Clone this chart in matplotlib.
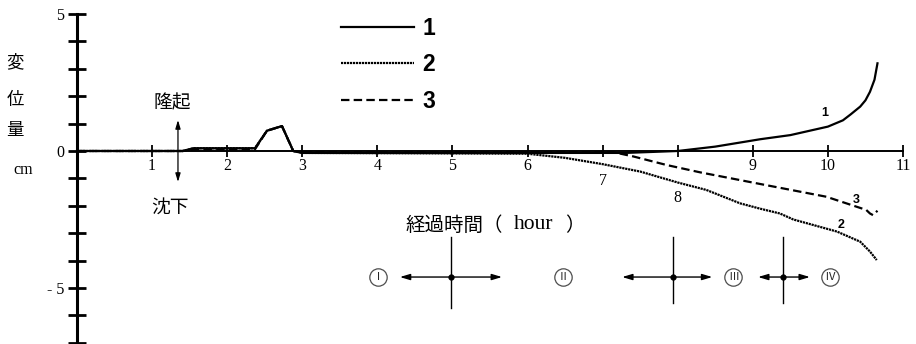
import matplotlib.pyplot as plt

plt.rcParams['font.family'] = ['Liberation Serif', 'Noto Sans CJK JP']

# elapsed time (hour) and displacement (cm) for the three measuring points
hours_1 = [0, 1.41, 1.55, 2.37, 2.53, 2.73, 2.88, 3.0, 7.3, 8.0, 8.5, 9.1, 9.5,
           10.0, 10.2, 10.3, 10.43, 10.5, 10.56, 10.62, 10.66]
disp_1 = [0, 0, 0.1, 0.1, 0.74, 0.91, 0, -0.07, -0.07, 0, 0.16, 0.43, 0.58,
          0.89, 1.12, 1.33, 1.62, 1.85, 2.16, 2.6, 3.2]

hours_2 = [0, 1.41, 1.55, 2.37, 2.53, 2.73, 2.88, 3.0, 6.0, 6.5, 7.0, 7.5, 8.0,
           8.38, 8.83, 9.09, 9.36, 9.54, 10.12, 10.43, 10.56, 10.65]
disp_2 = [0, 0, 0.1, 0.1, 0.74, 0.91, 0, -0.07, -0.1, -0.25, -0.48, -0.75, -1.15,
          -1.42, -1.91, -2.1, -2.28, -2.5, -2.94, -3.31, -3.67, -3.98]

hours_3 = [0, 1.41, 1.55, 2.37, 2.53, 2.73, 2.88, 3.0, 7.14, 7.41, 7.85, 8.3,
           9.09, 9.98, 10.51, 10.56, 10.6, 10.66]
disp_3 = [0, 0, 0.06, 0.06, 0.74, 0.91, 0, -0.04, -0.04, -0.2, -0.51, -0.78,
          -1.2, -1.67, -2.15, -2.28, -2.34, -2.18]

x_ticks = list(range(1, 12))
y_ticks = list(range(-7, 6))
y_tick_labels = ['- 5' if v == -5 else str(v) if v in (0, 5) else '' for v in y_ticks]

fig = plt.figure(figsize=(9.16, 3.44), dpi=100)
ax = fig.add_axes([0, 0, 1, 1])
ax.set_xlim(-1.025, 11.173)
ax.set_ylim(-7.044, 5.511)

# axes through the origin
for side in ['top', 'right']:
    ax.spines[side].set_visible(False)
ax.spines['left'].set_position(('data', 0))
ax.spines['left'].set_bounds(-7.1, 5)
ax.spines['left'].set_linewidth(2.2)
ax.spines['bottom'].set_position(('data', 0))
ax.spines['bottom'].set_bounds(0, 11)
ax.spines['bottom'].set_linewidth(1.4)

ax.set_xticks(x_ticks, [str(v) for v in x_ticks])
ax.set_yticks(y_ticks, y_tick_labels)
ax.tick_params(axis='x', direction='inout', length=8, width=1.3, pad=1, labelsize=11.5)
ax.tick_params(axis='y', direction='inout', length=13, width=2, pad=2.9, labelsize=11.5)

# labels 7 and 8 sit lower so the curves do not run through them
xt = ax.xaxis.get_major_ticks()
xt[6].label1.set_y(-0.55)
xt[7].label1.set_y(-1.17)

l1, = ax.plot(hours_1, disp_1, color='black', lw=1.6, solid_joinstyle='round')
l2, = ax.plot(hours_2, disp_2, color='black', lw=1.6, linestyle=(0, (1, 0.35)))
l3, = ax.plot(hours_3, disp_3, color='black', lw=1.6, linestyle=(0, (3.8, 1.9)))

# curve numbers
lab = dict(fontsize=9, fontweight='bold', family='Liberation Sans', ha='center', va='center')
ax.text(9.96, 1.38, '1', **lab)
ax.text(10.38, -1.79, '3', **lab)
ax.text(10.18, -2.7, '2', **lab)

leg = ax.legend([l1, l2, l3], ['1', '2', '3'], loc='upper left',
                bbox_to_anchor=(341 / 916, 1 - 17 / 344), frameon=False,
                prop={'family': 'Liberation Sans', 'weight': 'bold', 'size': 16.5},
                handlelength=3.2, handletextpad=0.35, labelspacing=0.58,
                borderpad=0, borderaxespad=0)

# axis titles
cjk = dict(family=['Noto Sans CJK JP'], fontsize=12.5, ha='center', va='center')
ax.text(-0.826, 3.25, '変', **cjk)
ax.text(-0.826, 1.86, '位', **cjk)
ax.text(-0.826, 0.77, '量', **cjk)
ax.text(-0.72, -0.69, 'cm', fontsize=11.5, ha='center', va='center')
ax.text(1.265, 1.75, '隆起', family=['Noto Sans CJK JP'], fontsize=13.5,
        ha='center', va='center')
ax.text(1.24, -2.04, '沈下', family=['Noto Sans CJK JP'], fontsize=13.5,
        ha='center', va='center')
ax.annotate('', xy=(1.345, 1.13), xytext=(1.345, -1.13),
            arrowprops=dict(arrowstyle='<|-|>,head_length=0.5,head_width=0.15',
                            lw=0.9, color='black', shrinkA=0, shrinkB=0))
ax.text(4.37, -2.72, '経過時間（', fontsize=14, ha='left', va='center',
        family=['Noto Sans CJK JP'])
ax.text(6.08, -2.68, 'hour', fontsize=15.5, ha='center', va='center')
ax.text(6.63, -2.72, '）', fontsize=14, ha='center', va='center',
        family=['Noto Sans CJK JP'])

# stage sketches along the bottom
stages = [('Ⅰ', 4.01), ('Ⅱ', 6.47), ('Ⅲ', 8.74), ('Ⅳ', 10.03)]
for name, t in stages:
    ax.plot(t, -4.6, 'o', ms=12.5, mfc='none', mec='0.3', mew=0.9)
    ax.text(t, -4.6, name, fontsize=8, ha='center', va='center',
            family=['Noto Sans CJK JP'], color='0.15')

crosses = [(4.98, 4.30, 5.66, -5.73), (7.94, 7.26, 8.46, -5.55),
           (9.40, 9.07, 9.76, -5.55)]
for cx, left, right, low in crosses:
    ax.plot([cx, cx], [-3.14, low], color='black', lw=1.0)
    ax.plot(cx, -4.6, 'o', color='black', ms=3.5)
    ax.annotate('', xy=(right, -4.6), xytext=(left, -4.6),
                arrowprops=dict(arrowstyle='<|-|>,head_length=0.6,head_width=0.18',
                                lw=1.0, color='black', shrinkA=0, shrinkB=0))

plt.savefig('out.png', dpi=100)
